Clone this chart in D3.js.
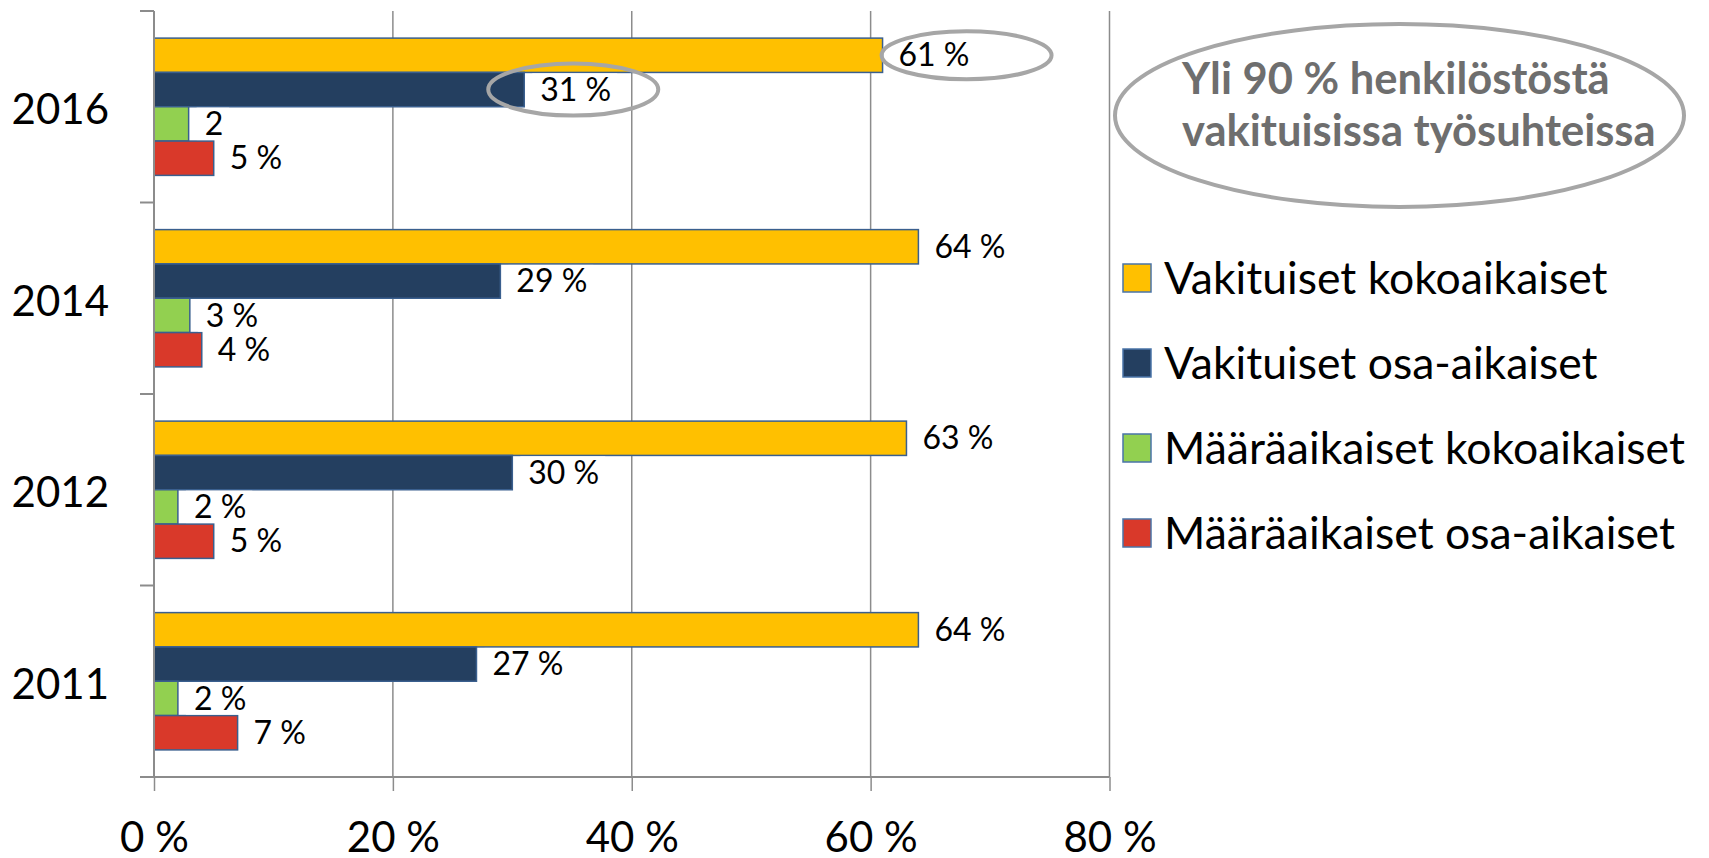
<!DOCTYPE html>
<html>
<head>
<meta charset="utf-8">
<script src="https://cdn.jsdelivr.net/npm/d3@7"></script>
<style>
  html, body { margin: 0; padding: 0; background: #fff; }
  svg { display: block; }
  text { font-family: Lato, "Open Sans", sans-serif; }
</style>
</head>
<body>
<svg id="chart" width="1709" height="858"></svg>
<script>
// ---- data ----
const years = ["2016", "2014", "2012", "2011"];
const seriesNames = ["Vakituiset kokoaikaiset", "Vakituiset osa-aikaiset", "Määräaikaiset kokoaikaiset", "Määräaikaiset osa-aikaiset"];
const seriesColors = ["#FFC000", "#243F60", "#92D050", "#D9392A"];
const vakKoko = [61, 64, 63, 64];
const vakOsa = [31, 29, 30, 27];
const maarKoko = [2.9, 3, 2, 2];
const maarOsa = [5, 4, 5, 7];
const labelVakKoko = ["61 %", "64 %", "63 %", "64 %"];
const labelVakOsa = ["31 %", "29 %", "30 %", "27 %"];
const labelMaarKoko = ["2", "3 %", "2 %", "2 %"];
const labelMaarOsa = ["5 %", "4 %", "5 %", "7 %"];
const xTicks = [0, 20, 40, 60, 80];
const xTickLabels = ["0 %", "20 %", "40 %", "60 %", "80 %"];
const calloutLines = ["Yli 90 % henkilöstöstä", "vakituisissa työsuhteissa"];

const seriesValues = [vakKoko, vakOsa, maarKoko, maarOsa];
const seriesLabels = [labelVakKoko, labelVakOsa, labelMaarKoko, labelMaarOsa];

// ---- layout ----
const svg = d3.select("#chart");
const plot = { left: 154, right: 1109.5, top: 11, bottom: 777 };

const x = d3.scaleLinear().domain([0, 80]).range([plot.left, plot.right]);
const y = d3.scaleBand().domain(years).range([plot.top, plot.bottom]).paddingInner(0).paddingOuter(0);
const ySub = d3.scaleBand().domain(d3.range(4)).range([0, y.bandwidth()]).paddingInner(0).paddingOuter(0.79);

const gridColor = "#8c8c8c";

// gridlines
svg.append("g").selectAll("line").data(xTicks.filter(d => d > 0)).join("line")
  .attr("x1", d => x(d)).attr("x2", d => x(d))
  .attr("y1", plot.top).attr("y2", plot.bottom)
  .attr("stroke", gridColor).attr("stroke-width", 1.5);

// bars
const rows = [];
years.forEach((yr, i) => {
  seriesValues.forEach((vals, s) => {
    rows.push({ year: yr, s, v: vals[i], label: seriesLabels[s][i] });
  });
});

svg.append("g").selectAll("rect").data(rows).join("rect")
  .attr("x", x(0))
  .attr("y", d => y(d.year) + ySub(d.s))
  .attr("width", d => x(d.v) - x(0))
  .attr("height", ySub.bandwidth())
  .attr("fill", d => seriesColors[d.s])
  .attr("stroke", "#3A5F8E").attr("stroke-width", 1.5);

// axes
const xAxis = d3.axisBottom(x).tickValues(xTicks).tickFormat((d, i) => xTickLabels[i]).tickSize(14).tickPadding(31);
const gx = svg.append("g").attr("transform", `translate(0,${plot.bottom})`).call(xAxis);
gx.select(".domain").remove();
gx.selectAll(".tick line").attr("stroke", gridColor).attr("stroke-width", 1.5);
gx.selectAll(".tick text").attr("font-size", 42).attr("fill", "#000").attr("font-family", "Lato");
svg.append("line").attr("x1", plot.left - 14).attr("x2", plot.right)
  .attr("y1", plot.bottom).attr("y2", plot.bottom).attr("stroke", gridColor).attr("stroke-width", 2);

const yAxis = d3.axisLeft(y).tickSize(0).tickPadding(45);
const gy = svg.append("g").attr("transform", `translate(${plot.left},0)`).call(yAxis);
gy.select(".domain").remove();
gy.selectAll(".tick text").attr("font-size", 42).attr("fill", "#000").attr("font-family", "Lato")
  .attr("dy", "0.42em");
svg.append("line").attr("x1", plot.left).attr("x2", plot.left)
  .attr("y1", plot.top).attr("y2", plot.bottom).attr("stroke", gridColor).attr("stroke-width", 2);
// category boundary ticks
const bounds = years.map(yr => y(yr)).concat([plot.bottom]);
svg.append("g").selectAll("line").data(bounds).join("line")
  .attr("x1", plot.left - 14).attr("x2", plot.left)
  .attr("y1", d => d).attr("y2", d => d)
  .attr("stroke", gridColor).attr("stroke-width", 2);

// data labels with white background
const lg = svg.append("g");
rows.forEach(d => {
  const cy = y(d.year) + ySub(d.s) + ySub.bandwidth() / 2;
  const t = lg.append("text")
    .attr("x", x(d.v) + 16).attr("y", cy).attr("dy", "0.35em")
    .attr("font-size", 32).attr("fill", "#000").text(d.label);
  const bb = t.node().getBBox();
  lg.insert("rect", "text").attr("x", bb.x - 8).attr("y", cy - ySub.bandwidth() / 2 + 1)
    .attr("width", bb.width + 14).attr("height", ySub.bandwidth() - 2).attr("fill", "#fff");
});

// highlight ellipses around 2016 labels
const hl = svg.append("g");
const cy0 = y("2016") + ySub(0) + ySub.bandwidth() / 2;
const cy1 = y("2016") + ySub(1) + ySub.bandwidth() / 2;
hl.append("ellipse").attr("cx", x(vakKoko[0]) + 84).attr("cy", cy0 + 0)
  .attr("rx", 85).attr("ry", 24).attr("fill", "none").attr("stroke", "#A6A6A6").attr("stroke-width", 4);
hl.append("ellipse").attr("cx", x(vakOsa[0]) + 49).attr("cy", cy1 + 0)
  .attr("rx", 85).attr("ry", 26).attr("fill", "none").attr("stroke", "#A6A6A6").attr("stroke-width", 4);

// callout
svg.append("ellipse").attr("cx", 1399.5).attr("cy", 115.5).attr("rx", 284.5).attr("ry", 91.5)
  .attr("fill", "none").attr("stroke", "#A6A6A6").attr("stroke-width", 4);
svg.append("g").selectAll("text").data(calloutLines).join("text")
  .attr("x", 1182).attr("y", (d, i) => 94 + i * 52)
  .attr("font-size", 43.5).attr("font-weight", "bold").attr("fill", "#6E6E6E")
  .text(d => d);

// legend
const leg = svg.append("g");
const legRows = [278, 363, 448, 533];
seriesNames.forEach((n, i) => {
  leg.append("rect").attr("x", 1123).attr("y", legRows[i] - 14).attr("width", 28).attr("height", 28)
    .attr("fill", seriesColors[i]).attr("stroke", "#4A74A8").attr("stroke-width", 1.5);
  leg.append("text").attr("x", 1164).attr("y", legRows[i]).attr("dy", "0.36em")
    .attr("font-size", 44.5).attr("fill", "#000").text(n);
});
</script>
</body>
</html>
